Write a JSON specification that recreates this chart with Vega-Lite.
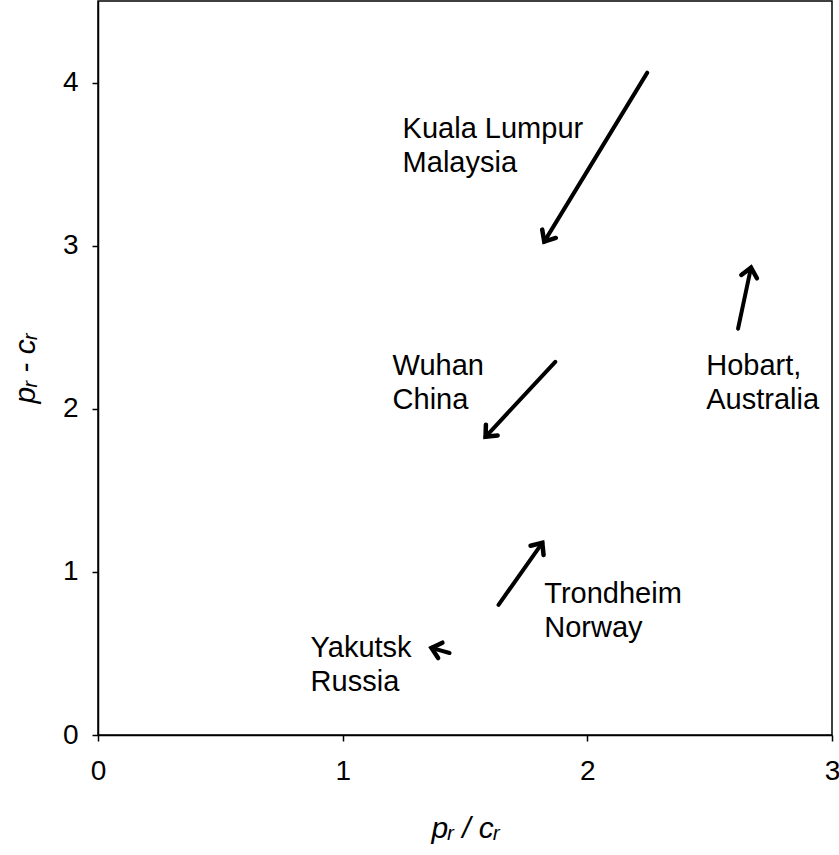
{
  "$schema": "https://vega.github.io/schema/vega-lite/v6.json",
  "width": 734,
  "height": 734,
  "autosize": "none",
  "padding": {"left": 98, "top": 1, "right": 7, "bottom": 120},
  "background": "white",
  "config": {
    "view": {"stroke": "black", "strokeWidth": 1.5},
    "axis": {
      "grid": false,
      "domainColor": "black",
      "domainWidth": 1.5,
      "tickColor": "black",
      "tickWidth": 1.5,
      "tickSize": 6,
      "labelColor": "black",
      "labelFont": "Liberation Sans",
      "labelFontSize": 28,
      "labelFlush": false,
      "labelOverlap": false,
      "titleColor": "black",
      "titleFont": "Liberation Sans",
      "titleFontSize": 30,
      "titleFontWeight": "normal",
      "titleFontStyle": "italic"
    }
  },
  "datasets": {
    "arrows": [
      {"city": "Kuala Lumpur", "sx": 2.245, "sy": 4.061, "tx": 1.824, "ty": 3.025},
      {"city": "Wuhan", "sx": 1.869, "sy": 2.288, "tx": 1.584, "ty": 1.828},
      {"city": "Hobart", "sx": 2.616, "sy": 2.491, "tx": 2.669, "ty": 2.865},
      {"city": "Trondheim", "sx": 1.637, "sy": 0.798, "tx": 1.816, "ty": 1.178},
      {"city": "Yakutsk", "sx": 1.437, "sy": 0.503, "tx": 1.363, "ty": 0.534}
    ],
    "labels": [
      {"label": "Kuala Lumpur\nMalaysia", "lx": 1.245, "ly": 3.663},
      {"label": "Wuhan\nChina", "lx": 1.204, "ly": 2.209},
      {"label": "Hobart,\nAustralia", "lx": 2.486, "ly": 2.209},
      {"label": "Trondheim\nNorway", "lx": 1.824, "ly": 0.81},
      {"label": "Yakutsk\nRussia", "lx": 0.869, "ly": 0.479}
    ]
  },
  "layer": [
    {
      "data": {"name": "arrows"},
      "mark": {"type": "rule", "strokeWidth": 4, "strokeCap": "round", "color": "black"},
      "encoding": {
        "x": {
          "field": "sx",
          "type": "quantitative",
          "scale": {"domain": [0, 3], "nice": false, "zero": false},
          "axis": {"values": [0, 1, 2, 3], "format": "d", "labelPadding": 16, "title": "pᵣ / cᵣ", "titlePadding": 28}
        },
        "y": {
          "field": "sy",
          "type": "quantitative",
          "scale": {"domain": [0, 4.5], "nice": false, "zero": false},
          "axis": {"values": [0, 1, 2, 3, 4], "format": "d", "labelPadding": 14, "title": "pᵣ - cᵣ", "titlePadding": 22}
        },
        "x2": {"field": "tx"},
        "y2": {"field": "ty"}
      }
    },
    {
      "data": {"name": "arrows"},
      "mark": {
        "type": "point",
        "shape": "M-0.7,0.8L0,0L0.7,0.8",
        "filled": false,
        "size": 520,
        "strokeWidth": 4.5,
        "strokeCap": "round",
        "strokeJoin": "miter",
        "color": "black",
        "opacity": 1,
        "angle": {"expr": "atan2(scale('x', datum.tx) - scale('x', datum.sx), scale('y', datum.sy) - scale('y', datum.ty)) * 180 / PI"}
      },
      "encoding": {
        "x": {"field": "tx", "type": "quantitative"},
        "y": {"field": "ty", "type": "quantitative"}
      }
    },
    {
      "data": {"name": "labels"},
      "mark": {
        "type": "text",
        "align": "left",
        "baseline": "alphabetic",
        "font": "Liberation Sans",
        "fontSize": 29,
        "lineBreak": "\n",
        "lineHeight": 34,
        "color": "black"
      },
      "encoding": {
        "x": {"field": "lx", "type": "quantitative"},
        "y": {"field": "ly", "type": "quantitative"},
        "text": {"field": "label"}
      }
    }
  ]
}
